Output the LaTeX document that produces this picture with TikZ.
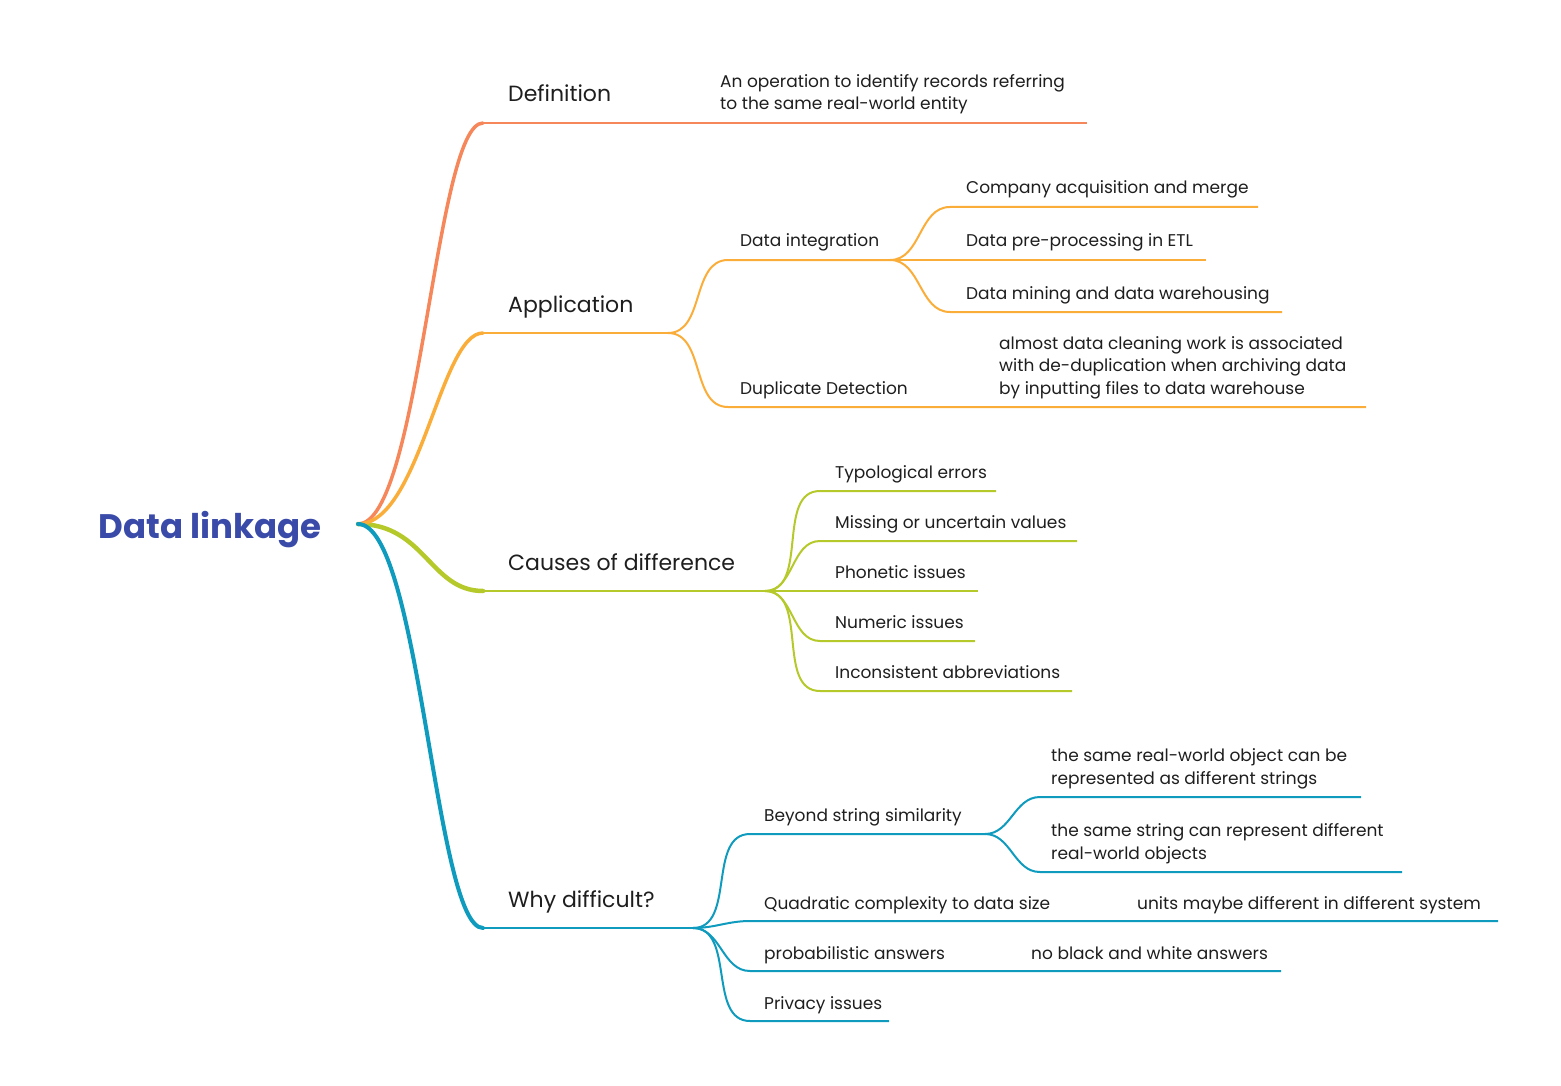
\documentclass[tikz,border=0pt]{standalone}
\usepackage{fontspec}
\setmainfont{Poppins}
\definecolor{defcol}{RGB}{245,135,90}
\definecolor{appcol}{RGB}{251,173,58}
\definecolor{caucol}{RGB}{181,201,43}
\definecolor{whycol}{RGB}{14,155,190}
\definecolor{rootcol}{RGB}{58,74,168}
\definecolor{txt}{RGB}{30,30,30}

\begin{document}
\begin{tikzpicture}[x=1pt,y=-1pt,
  topic/.style={anchor=base west,inner sep=0pt,text=txt,font=\fontsize{22}{26}\selectfont},
  sub/.style={anchor=base west,inner sep=0pt,text=txt,font=\fontsize{17}{22.5}\selectfont,align=left},
  trunk/.style={line width=3.5pt,line cap=round},
  limb/.style={line width=2.5pt},
  twig/.style={line width=2pt}]
\useasboundingbox (0,0) rectangle (1561,1086);

\coordinate (hub) at (358,524);
\node[anchor=base,inner sep=0pt,text=rootcol,font=\fontsize{34}{38}\selectfont\bfseries] (root) at (210,538) {Data linkage};

% Definition
\coordinate (def0) at (483,123);
\coordinate (def1) at (1087,123);
\node[topic] (def) at (508,102) {Definition};
\node[sub] (defnote) at (720,110) {An operation to identify records referring\\to the same real-world entity};
\draw[limb,defcol] (def0) -- (def1);

% Application
\coordinate (app0) at (483,333);
\coordinate (app1) at (668,333);
\node[topic] (app) at (508,312) {Application};
\draw[limb,appcol] (app0) -- (app1);
\coordinate (integ0) at (728,260);
\coordinate (integ1) at (890,260);
\node[sub] (integ) at (740,247) {Data integration};
\draw[twig,appcol] (app1) to[out=0,in=180] (integ0) -- (integ1);
\foreach \t/\y/\e [count=\i] in {Company acquisition and merge/207/1258, Data pre-processing in ETL/260/1206, Data mining and data warehousing/312/1282} {
  \coordinate (use\i) at (950,\y);
  \node[sub] (usetxt\i) at (966,\y-13) {\t};
  \draw[twig,appcol] (integ1) to[out=0,in=180] (use\i) -- (\e,\y);
}
\coordinate (dup0) at (728,407);
\coordinate (dup1) at (1366,407);
\node[sub] (dup) at (740,394) {Duplicate Detection};
\node[sub] (dupnote) at (999,394) {almost data cleaning work is associated\\with de-duplication when archiving data\\by inputting files to data warehouse};
\draw[twig,appcol] (app1) to[out=0,in=180] (dup0) -- (dup1);

% Causes of difference
\coordinate (cau0) at (483,591);
\coordinate (cau1) at (765,591);
\node[topic] (cau) at (508,570) {Causes of difference};
\draw[limb,caucol] (cau0) -- (cau1);
\foreach \t/\e [count=\i] in {Typological errors/996, Missing or uncertain values/1077, Phonetic issues/978, Numeric issues/975, Inconsistent abbreviations/1072} {
  \coordinate (err\i) at (820,441+50*\i);
  \node[sub] (errtxt\i) at (835,428+50*\i) {\t};
  \draw[twig,caucol] (cau1) to[out=0,in=180] (err\i) -- (\e,441+50*\i);
}

% Why difficult?
\coordinate (why0) at (483,928);
\coordinate (why1) at (693,928);
\node[topic] (why) at (508,907) {Why difficult?};
\draw[limb,whycol] (why0) -- (why1);
\coordinate (str0) at (750,834);
\coordinate (str1) at (985,834);
\node[sub] (str) at (764,821) {Beyond string similarity};
\draw[twig,whycol] (why1) to[out=0,in=180] (str0) -- (str1);
\coordinate (obj0) at (1040,797);
\node[sub] (objtxt) at (1051,784) {the same real-world object can be\\represented as different strings};
\draw[twig,whycol] (str1) to[out=0,in=180] (obj0) -- (1361,797);
\coordinate (same0) at (1040,872);
\node[sub] (sametxt) at (1051,859) {the same string can represent different\\real-world objects};
\draw[twig,whycol] (str1) to[out=0,in=180] (same0) -- (1402,872);
\coordinate (quad0) at (750,921);
\node[sub] (quad) at (764,909) {Quadratic complexity to data size};
\node[sub] (units) at (1137,909) {units maybe different in different system};
\draw[twig,whycol] (why1) to[out=0,in=180] (quad0) -- (1498,921);
\coordinate (prob0) at (750,971);
\node[sub] (prob) at (764,959) {probabilistic answers};
\node[sub] (bw) at (1031,959) {no black and white answers};
\draw[twig,whycol] (why1) to[out=0,in=180] (prob0) -- (1281,971);
\coordinate (priv0) at (750,1021);
\node[sub] (priv) at (764,1009) {Privacy issues};
\draw[twig,whycol] (why1) to[out=0,in=180] (priv0) -- (889,1021);

% trunks from the hub
\draw[trunk,caucol,line width=4.5pt] (hub) .. controls (425,524) and (430,591) .. (cau0);
\draw[trunk,defcol] (hub) .. controls (420,524) and (435,123) .. (def0);
\draw[trunk,appcol] (hub) .. controls (420,524) and (440,333) .. (app0);
\draw[trunk,whycol,line width=4pt] (hub) .. controls (420,524) and (435,928) .. (why0);
\end{tikzpicture}
\end{document}
